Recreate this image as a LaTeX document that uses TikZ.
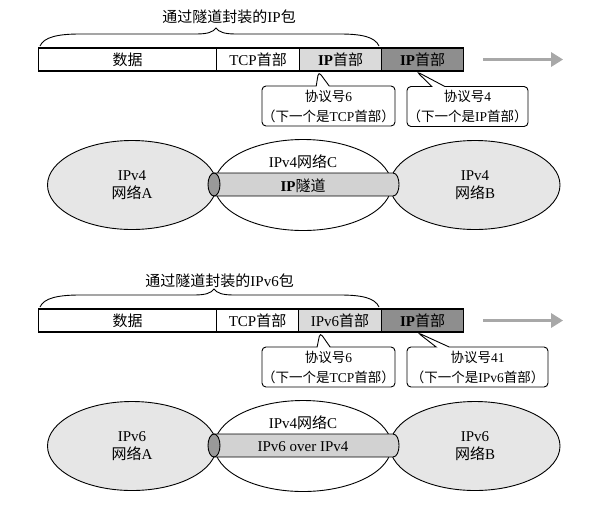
\documentclass[tikz,border=0pt]{standalone}
\usepackage{fontspec}
\setmainfont{Liberation Serif}
\newfontfamily\cjk{Noto Sans CJK SC}
\newcommand\zh[1]{{\cjk #1}}
\usetikzlibrary{shapes.geometric,shapes.callouts,arrows.meta}
\definecolor{netfill}{HTML}{E6E6E6}
\definecolor{tubefill}{HTML}{D2D2D2}
\definecolor{capfill}{HTML}{999999}
\definecolor{lightseg}{HTML}{DADADA}
\definecolor{darkseg}{HTML}{8E8E8E}
\definecolor{arrowgray}{HTML}{A8A8A8}
\begin{document}
\begin{tikzpicture}[x=1pt,y=-1pt,
  seg/.style={draw, line width=1.1pt, minimum height=23pt, inner sep=0pt,
    anchor=west, font=\fontsize{15}{17}\selectfont},
  titletext/.style={anchor=east, inner sep=0pt, font=\fontsize{15}{17}\selectfont},
  bubble/.style={rectangle callout, draw, line width=0.9pt, rounded corners=4pt,
    fill=white, inner sep=0pt, align=center, minimum height=40pt,
    callout pointer width=13pt, font=\fontsize{13.5}{20}\selectfont},
  net/.style={ellipse, draw, line width=0.9pt, inner sep=0pt, align=center,
    font=\fontsize{15}{18}\selectfont},
  lbl/.style={inner sep=0pt, font=\fontsize{15}{17}\selectfont},
  bigarrow/.style={line width=3.5pt, draw=arrowgray,
    -{Triangle[length=12pt,width=14pt]}},
  bracepath/.style={line width=0.9pt}
]
\useasboundingbox (0,0) rectangle (607,509);

% ================= upper half =================
\node[titletext] (t1) at (296,17) {\zh{通过隧道封装的}IP\zh{包}};
\draw[bracepath] (40,46) .. controls (44,37) and (58,34) .. (80,34) -- (196,34)
  .. controls (208,34) and (213,32) .. (216,28)
  .. controls (219,32) and (224,34) .. (236,34) -- (340,34)
  .. controls (362,34) and (375,37) .. (379,46);

\node[seg, minimum width=178pt] (a1) at (38,59.5) {\zh{数据}};
\node[seg, minimum width=83pt] (b1) at (216,59.5) {TCP\zh{首部}};
\node[seg, minimum width=82pt, fill=lightseg] (c1) at (299,59.5) {\textbf{IP}\zh{首部}};
\node[seg, minimum width=82pt, fill=darkseg] (d1) at (381,59.5) {\textbf{IP}\zh{首部}};
\draw[bigarrow] ([xshift=19pt]d1.east) -- ([xshift=99pt]d1.east);

\node[bubble, minimum width=133pt, callout absolute pointer={([xshift=-22pt]c1.south)}]
  (p1) at (328.5,106) {\zh{协议号}6\\\zh{（下一个是}TCP\zh{首部）}};
\node[bubble, minimum width=121pt, callout absolute pointer={([xshift=-6pt]d1.south)}]
  (q1) at (467.5,106.5) {\zh{协议号}4\\\zh{（下一个是}IP\zh{首部）}};

\node[net, fill=netfill, minimum width=169pt, minimum height=89pt] (na1) at (132,185)
  {IPv4\\\zh{网络}A};
\node[net, fill=netfill, minimum width=170pt, minimum height=89pt] (nb1) at (475,185)
  {IPv4\\\zh{网络}B};
\node[net, fill=white, minimum width=177pt, minimum height=91pt] (nc1) at (303,185) {};
\node[lbl] (ncl1) at (303,162) {IPv4\zh{网络}C};
\draw[line width=0.9pt, fill=tubefill] (214,173) -- (393,173)
  .. controls (401,173) and (401,196) .. (393,196) -- (214,196) -- cycle;
\draw[line width=0.9pt, fill=capfill] (214,184.5) ellipse [x radius=6, y radius=11.5];
\node[lbl] (tu1) at (303,186) {\textbf{IP}\zh{隧道}};

% ================= lower half =================
\node[titletext] (t2) at (294,281) {\zh{通过隧道封装的}IPv6\zh{包}};
\draw[bracepath] (40,307) .. controls (44,298) and (58,295) .. (80,295) -- (194,295)
  .. controls (206,295) and (211,293) .. (214,289)
  .. controls (217,293) and (222,295) .. (234,295) -- (340,295)
  .. controls (362,295) and (375,298) .. (379,307);

\node[seg, minimum width=178pt] (a2) at (38,320.5) {\zh{数据}};
\node[seg, minimum width=82pt] (b2) at (216,320.5) {TCP\zh{首部}};
\node[seg, minimum width=83pt, fill=lightseg] (c2) at (298,320.5) {IPv6\zh{首部}};
\node[seg, minimum width=82pt, fill=darkseg] (d2) at (381,320.5) {\textbf{IP}\zh{首部}};
\draw[bigarrow] ([xshift=19pt]d2.east) -- ([xshift=99pt]d2.east);

\node[bubble, minimum width=133pt, callout absolute pointer={([xshift=-20pt]c2.south)}]
  (p2) at (328.5,367) {\zh{协议号}6\\\zh{（下一个是}TCP\zh{首部）}};
\node[bubble, minimum width=141pt, callout absolute pointer={([xshift=-5pt]d2.south)}]
  (q2) at (477.5,367) {\zh{协议号}41\\\zh{（下一个是}IPv6\zh{首部）}};

\node[net, fill=netfill, minimum width=169pt, minimum height=89pt] (na2) at (132,446)
  {IPv6\\\zh{网络}A};
\node[net, fill=netfill, minimum width=170pt, minimum height=89pt] (nb2) at (475,446)
  {IPv6\\\zh{网络}B};
\node[net, fill=white, minimum width=177pt, minimum height=91pt] (nc2) at (303,446) {};
\node[lbl] (ncl2) at (303,423) {IPv4\zh{网络}C};
\draw[line width=0.9pt, fill=tubefill] (214,434) -- (393,434)
  .. controls (401,434) and (401,457) .. (393,457) -- (214,457) -- cycle;
\draw[line width=0.9pt, fill=capfill] (214,445.5) ellipse [x radius=6, y radius=11.5];
\node[lbl] (tu2) at (303,447) {IPv6 over IPv4};
\end{tikzpicture}
\end{document}
